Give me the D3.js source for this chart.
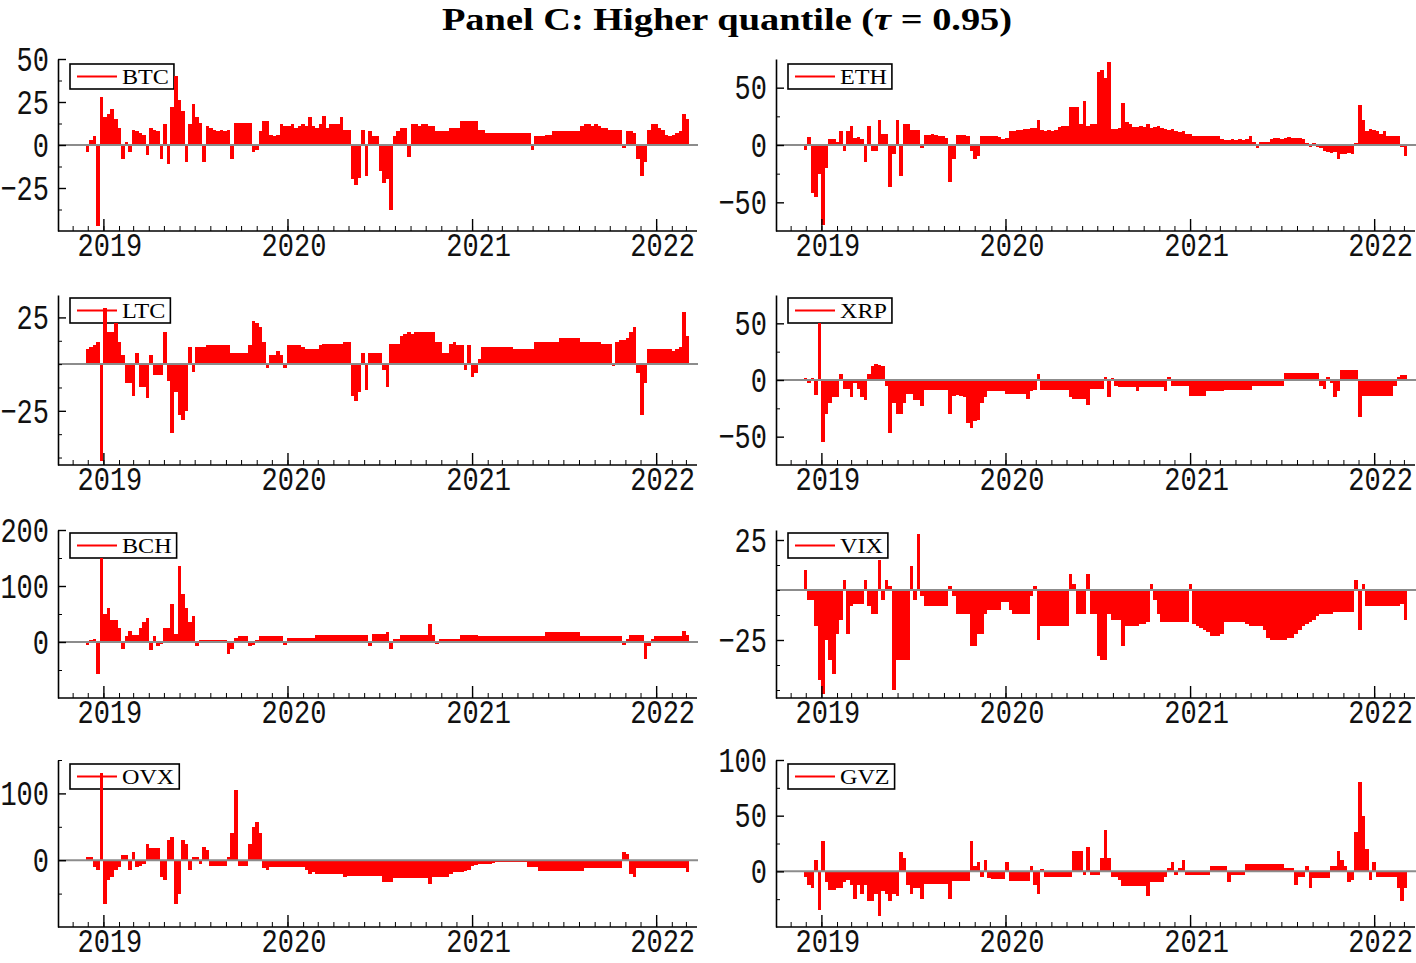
<!DOCTYPE html>
<html>
<head>
<meta charset="utf-8">
<script src="https://cdn.jsdelivr.net/npm/d3@7/dist/d3.min.js"></script>
<style>
    body { margin: 0; background: #ffffff; }
</style>
</head>
<body>
<script>
// weekly values, first week starts 27 Nov 2018
var startDate = new Date(2018, 10, 27);

var names = ["BTC", "ETH", "LTC", "XRP", "BCH", "VIX", "OVX", "GVZ"];
var yearTicks = [2019, 2020, 2021, 2022];

var btc = [
    -4, 3, 5, -47, 28, 16, 18, 21, 15, 10,
    -8, 2, -4, 9, 8, 7, 6, -6, 10, 9,
    8, -8, 12, -11, 22, 40, 26, 20, -10, 12,
    24, 16, 13, -10, 11, 10, 9, 8, 9, 8,
    9, -8, 13, 13, 13, 13, 13, -4, -3, 8,
    14, 14, 6, 5, 6, 12, 11, 11, 12, 10,
    11, 12, 11, 16, 11, 10, 12, 17, 10, 12,
    12, 12, 16, 9, 9, -20, -23, -19, 9, -18,
    8, 5, 5, -15, -22, -20, -38, 5, 8, 10,
    10, -7, 12, 12, 11, 12, 12, 11, 11, 8,
    8, 8, 8, 10, 10, 10, 14, 14, 14, 14,
    14, 9, 9, 7, 7, 7, 7, 7, 7, 7,
    7, 7, 7, 7, 7, 7, -3, 5, 5, 5,
    6, 6, 8, 8, 8, 8, 8, 8, 8, 8,
    11, 12, 12, 11, 12, 11, 10, 10, 9, 9,
    9, 9, -2, 8, 8, 7, -8, -18, -10, 9,
    12, 12, 10, 9, 6, 5, 6, 7, 8, 18,
    15
];
var eth = [
    -4, 7, -42, -45, -25, -70, -20, 5, 5, 3,
    12, -5, 12, 17, 6, 7, 5, -15, 17, -5,
    -5, 22, 10, 10, -37, -8, 22, -27, 18, 18,
    13, 13, 13, -3, 9, 9, 10, 9, 8, 8,
    6, -32, -12, 9, 9, 9, 8, -5, -12, -10,
    8, 8, 8, 8, 8, 7, 5, 6, 12, 12,
    13, 13, 14, 14, 15, 15, 22, 13, 12, 13,
    12, 13, 16, 17, 17, 33, 33, 33, 18, 38,
    17, 18, 18, 64, 65, 58, 72, 14, 14, 15,
    37, 20, 18, 16, 16, 17, 16, 18, 15, 16,
    17, 15, 14, 13, 14, 12, 11, 12, 10, 10,
    8, 8, 8, 8, 8, 8, 8, 8, 5, 4,
    4, 5, 4, 5, 4, 5, 8, 3, -3, 3,
    3, 3, 5, 6, 6, 5, 6, 7, 6, 6,
    6, 5, 2, -2, 2, -2, -3, -5, -6, -7,
    -6, -12, -8, -8, -7, -8, 2, 35, 22, 12,
    14, 13, 12, 10, 12, 8, 8, 8, 8, -2,
    -10
];
var ltc = [
    8, 9, 10, 12, -52, 30, 17, 17, 22, 12,
    5, -10, -10, -17, 6, -12, -12, -18, 5, -6,
    -6, -6, 17, -9, -37, -15, -27, -30, -25, 9,
    -4, 9, 9, 9, 10, 10, 10, 10, 10, 10,
    10, 6, 6, 6, 6, 6, 10, 23, 22, 20,
    12, -2, 5, 5, 7, 5, -2, 10, 10, 10,
    10, 9, 8, 8, 8, 8, 10, 11, 11, 11,
    11, 11, 11, 12, 12, -17, -20, -15, 6, -14,
    6, 6, 6, 6, -3, -12, 11, 11, 11, 15,
    16, 17, 16, 17, 17, 17, 17, 17, 17, 12,
    12, 6, 6, 11, 12, 10, 10, -3, 10, -7,
    -5, 3, 9, 9, 9, 9, 9, 9, 9, 9,
    9, 8, 8, 8, 8, 8, 8, 12, 12, 12,
    12, 12, 12, 12, 14, 14, 14, 14, 14, 14,
    12, 12, 12, 12, 12, 12, 11, 11, 11, -1,
    12, 13, 13, 14, 17, 20, -5, -27, -10, 8,
    8, 8, 8, 8, 8, 8, 7, 8, 9, 28,
    15
];
var xrp = [
    2, -3, 2, -13, 50, -55, -30, -20, -15, -15,
    5, -8, -8, -15, -3, -8, -15, -18, 5, 12,
    14, 13, 12, -5, -47, -20, -30, -30, -20, -12,
    -12, -18, -18, -23, -9, -9, -9, -9, -9, -9,
    -9, -30, -14, -13, -14, -15, -38, -42, -36, -35,
    -20, -15, -10, -10, -10, -10, -10, -12, -12, -12,
    -12, -12, -12, -17, -10, -9, 5, -9, -9, -9,
    -9, -9, -9, -9, -9, -15, -17, -17, -17, -17,
    -22, -8, -8, -8, -8, 3, -15, 2, -5, -6,
    -6, -6, -6, -6, -10, -6, -6, -6, -6, -6,
    -6, -6, -10, 3, -5, -5, -5, -5, -5, -14,
    -14, -14, -14, -14, -10, -10, -10, -10, -10, -9,
    -9, -9, -9, -9, -9, -9, -9, -5, -5, -5,
    -5, -5, -5, -5, -5, -5, 6, 6, 6, 6,
    6, 6, 6, 6, 6, 6, -5, -8, 3, -3,
    -15, -10, 9, 9, 9, 9, 9, -33, -14, -14,
    -14, -14, -14, -14, -14, -14, -14, -5, 3, 4,
    4
];
var bch = [
    -5, 3, 5, -58, 150, 50, 60, 40, 40, 25,
    -12, 10, 20, 12, 12, 25, 35, 43, -15, 10,
    -8, -3, 25, 25, 68, 15, 135, 85, 60, 35,
    47, -8, 3, 3, 3, 3, 3, 3, 3, 3,
    -22, -12, 8, 10, 10, 10, -8, -5, 3, 10,
    10, 10, 10, 10, 10, 10, -5, 7, 7, 7,
    7, 7, 7, 7, 7, 12, 12, 12, 13, 13,
    13, 13, 13, 13, 13, 13, 13, 13, 13, 13,
    -8, 14, 14, 14, 14, 17, -12, 5, 5, 12,
    12, 12, 12, 12, 12, 12, 12, 33, 12, -3,
    5, 5, 5, 5, 5, 5, 13, 13, 13, 13,
    13, 10, 10, 10, 10, 10, 10, 10, 10, 10,
    10, 10, 10, 10, 10, 11, 11, 11, 11, 11,
    17, 17, 17, 17, 17, 17, 17, 17, 17, 17,
    10, 10, 10, 10, 10, 10, 10, 10, 10, 10,
    10, 10, -5, 5, 12, 12, 12, 12, -30, -8,
    5, 11, 11, 11, 11, 11, 11, 11, 11, 20,
    12
];
var vix = [
    10, -5, -5, -18, -45, -52, -25, -35, -42, -22,
    -15, 5, -22, -8, -7, -7, -7, 5, -8, -12,
    -12, 15, -5, 5, 2, -50, -35, -35, -35, -35,
    12, -5, 28, -3, -8, -8, -8, -8, -8, -8,
    -8, 2, -3, -12, -12, -12, -12, -28, -28, -22,
    -22, -12, -10, -10, -10, -10, -6, -6, -10, -12,
    -12, -12, -12, -12, -3, 2, -25, -18, -18, -18,
    -18, -18, -18, -18, -18, 8, 3, -12, -12, -12,
    8, -12, -12, -33, -35, -35, -12, -15, -15, -15,
    -28, -18, -18, -18, -18, -17, -17, -16, 3, -5,
    -12, -16, -16, -16, -16, -16, -16, -16, -16, 3,
    -17, -18, -19, -20, -21, -23, -23, -23, -22, -16,
    -16, -16, -16, -16, -16, -17, -18, -18, -18, -18,
    -20, -24, -25, -25, -25, -25, -25, -24, -24, -22,
    -20, -18, -17, -16, -15, -13, -12, -12, -12, -12,
    -11, -11, -11, -11, -11, -11, 5, -20, 3, -8,
    -8, -8, -8, -8, -8, -8, -8, -8, -8, -7,
    -15
];
var ovx = [
    5, 5, -10, -15, 130, -65, -30, -25, -15, -10,
    8, 8, -15, 12, -10, -8, -5, 25, 18, 18,
    18, -25, -30, 30, 35, -65, -50, 30, 25, -15,
    5, 5, -5, 20, 15, -8, -8, -8, -8, -8,
    5, 40, 105, -8, -8, -8, 25, 50, 57, 40,
    -12, -15, -10, -10, -10, -10, -10, -10, -10, -10,
    -10, -10, -15, -20, -18, -20, -20, -20, -20, -20,
    -20, -20, -20, -25, -23, -23, -23, -23, -23, -23,
    -23, -23, -23, -23, -32, -32, -32, -27, -27, -27,
    -27, -27, -27, -27, -27, -27, -27, -35, -25, -25,
    -25, -25, -25, -20, -18, -18, -17, -16, -15, -8,
    -7, -6, -5, -5, -5, -4, -3, -3, -3, -3,
    -3, -3, -3, -3, -3, -10, -10, -10, -16, -16,
    -16, -16, -16, -16, -16, -16, -16, -16, -16, -16,
    -16, -11, -11, -11, -11, -11, -11, -11, -11, -11,
    -11, -11, 12, 10, -20, -25, -12, -12, -12, -12,
    -11, -11, -11, -11, -11, -11, -11, -11, -11, -11,
    -18
];
var gvz = [
    -5, -12, -15, 10, -35, 27, -10, -17, -17, -15,
    -15, -10, -8, -12, -25, -12, -20, -12, -27, -27,
    -20, -40, -18, -20, -27, -20, -22, 17, 12, -12,
    -20, -15, -15, -25, -11, -11, -11, -11, -11, -11,
    -11, -25, -9, -9, -9, -9, -9, 27, 5, 8,
    -5, 10, -6, -7, -7, -7, -7, 8, -9, -9,
    -9, -9, -9, -9, 5, -12, -20, 2, -5, -5,
    -5, -5, -5, -5, -5, -5, 18, 18, 18, -3,
    22, -3, -3, -3, 12, 37, 12, -5, -5, -8,
    -13, -13, -13, -13, -13, -13, -13, -22, -10, -10,
    -10, -10, -5, 3, 8, -3, 3, 10, -3, -3,
    -3, -3, -3, -3, -3, 5, 5, 5, 5, 5,
    -10, -3, -3, -3, -3, 7, 7, 7, 7, 7,
    7, 7, 7, 7, 7, 7, 3, 3, 3, -12,
    -5, -5, 5, -15, -6, -6, -6, -6, -6, 5,
    5, 18, 10, 5, -10, -8, 35, 80, 50, 20,
    -8, 8, -5, -5, -5, -5, -5, -5, -15, -27,
    -15
];

// labelled and unlabelled y ticks of each panel
var majorTicks = {
    BTC: [-25, 0, 25, 50], ETH: [-50, 0, 50], LTC: [-25, 25], XRP: [-50, 0, 50],
    BCH: [0, 100, 200], VIX: [-25, 25], OVX: [0, 100], GVZ: [0, 50, 100]
};
var minorTicks = {
    BTC: [-37.5, -12.5, 12.5, 37.5], ETH: [-25, 25], LTC: [-50, -37.5, -12.5, 0, 12.5],
    XRP: [-25, 25], BCH: [-50, 50, 150], VIX: [-50, -37.5, -12.5, 0, 12.5],
    OVX: [-50, 50, 150], GVZ: [-25, 25, 75]
};

var series = { BTC: btc, ETH: eth, LTC: ltc, XRP: xrp, BCH: bch, VIX: vix, OVX: ovx, GVZ: gvz };

// panel layout
var colLeft = [58, 776];
var rows = [
    { top: 59, bottom: 231, legendTop: 64 },
    { top: 295, bottom: 465, legendTop: 298 },
    { top: 530, bottom: 698, legendTop: 533 },
    { top: 760, bottom: 927, legendTop: 764 }
];
var yDomains = {
    BTC: [-50, 50], ETH: [-75, 75], LTC: [-54, 37], XRP: [-75, 75],
    BCH: [-100, 200], VIX: [-54, 30], OVX: [-100, 150], GVZ: [-50, 100]
};

var xStart = new Date(2018, 9, 3);
var xEnd = new Date(2022, 2, 19);
var tickFont = "'Liberation Mono', 'DejaVu Sans Mono', monospace";
var serifFont = "'Liberation Serif', 'Times New Roman', serif";

var svg = d3.select("body").append("svg")
    .attr("width", 1416)
    .attr("height", 963)
    .style("background", "#ffffff");

// Title (the original is a little wider than the plain font)
var title = svg.append("text")
    .attr("transform", "translate(727,30) scale(1.2,1)")
    .attr("text-anchor", "middle")
    .style("font-family", serifFont)
    .style("font-weight", "bold")
    .style("font-size", "32px")
    .style("fill", "#000");
title.append("tspan").text("Panel C: Higher quantile (");
title.append("tspan").style("font-style", "italic").text("τ");
title.append("tspan").text(" = 0.95)");

names.forEach(function (name, k)
{
    var col = k % 2;
    var row = rows[Math.floor(k / 2)];
    var left = colLeft[col];
    var values = series[name];

    var x = d3.scaleTime().domain([xStart, xEnd]).range([left, left + 637]);
    var y = d3.scaleLinear().domain(yDomains[name]).range([row.bottom, row.top]);

    var g = svg.append("g").attr("class", "panel-" + name);

    // Legend box (the bars are drawn over it, as in the original)
    var lx = left + 12;
    var legend = g.append("g");
    var box = legend.append("rect")
        .attr("x", lx)
        .attr("y", row.legendTop)
        .attr("height", 25)
        .style("fill", "#fff")
        .style("stroke", "#000")
        .style("stroke-width", 1.6);
    legend.append("line")
        .attr("x1", lx + 7)
        .attr("x2", lx + 47)
        .attr("y1", row.legendTop + 12.5)
        .attr("y2", row.legendTop + 12.5)
        .style("stroke", "red")
        .style("stroke-width", 2);
    var lt = legend.append("text")
        .attr("transform", "translate(" + (lx + 52) + "," + (row.legendTop + 20) + ") scale(1.15,1)")
        .style("font-family", serifFont)
        .style("font-size", "21px")
        .style("fill", "#000")
        .text(name);
    box.attr("width", 52 + lt.node().getComputedTextLength() * 1.15 + 5);

    // Bars, snapped to whole pixels so neighbouring weeks join without seams
    var dates = values.map(function (d, i) { return d3.timeDay.offset(startDate, 7 * i); });
    g.append("g").selectAll("rect")
        .data(values)
        .join("rect")
        .attr("x", function (d, i) { return Math.round(x(dates[i])); })
        .attr("width", function (d, i) {
            return Math.round(x(d3.timeDay.offset(dates[i], 7))) - Math.round(x(dates[i]));
        })
        .attr("y", function (d) { return y(Math.max(0, d)); })
        .attr("height", function (d) { return Math.abs(y(d) - y(0)); })
        .attr("shape-rendering", "crispEdges")
        .style("fill", "#ff0000");

    // Zero line
    g.append("line")
        .attr("x1", left)
        .attr("x2", left + 640)
        .attr("y1", y(0))
        .attr("y2", y(0))
        .style("stroke", "#8c8c8c")
        .style("stroke-width", 2);

    // Y axis
    var yAxis = g.append("g")
        .attr("transform", "translate(" + left + ",0)")
        .call(d3.axisLeft(y).tickValues(majorTicks[name]).tickSizeInner(-8).tickSizeOuter(0).tickPadding(9));
    yAxis.select(".domain").style("stroke-width", 1.6);
    yAxis.selectAll(".tick line").style("stroke-width", 1.4);
    yAxis.selectAll("text")
        .style("font-family", tickFont)
        .style("font-size", "27px")
        .style("fill", "#111")
        .attr("transform", "scale(1,1.3)");

    var yMinor = g.append("g")
        .attr("transform", "translate(" + left + ",0)")
        .call(d3.axisLeft(y).tickValues(minorTicks[name]).tickSizeInner(-4).tickSizeOuter(0).tickFormat(""));
    yMinor.select(".domain").remove();

    // X axis: years and months
    var years = yearTicks.map(function (yr) { return new Date(yr, 0, 1); });
    var xAxis = g.append("g")
        .attr("transform", "translate(0," + row.bottom + ")")
        .call(d3.axisBottom(x).tickValues(years).tickSizeInner(-12).tickSizeOuter(0).tickPadding(1)
            .tickFormat(d3.timeFormat("%Y")));
    xAxis.select(".domain").style("stroke-width", 1.6).attr("d", "M" + left + ",0H" + (left + 639));
    xAxis.selectAll(".tick line").style("stroke-width", 1.4);
    xAxis.selectAll("text")
        .attr("dx", 6)
        .style("font-family", tickFont)
        .style("font-size", "27px")
        .style("fill", "#111")
        .attr("transform", "scale(1,1.25)");

    var xMinor = g.append("g")
        .attr("transform", "translate(0," + row.bottom + ")")
        .call(d3.axisBottom(x).tickValues(d3.timeMonth.range(xStart, xEnd)).tickSizeInner(-5).tickSizeOuter(0).tickFormat(""));
    xMinor.select(".domain").remove();
});
</script>
</body>
</html>
